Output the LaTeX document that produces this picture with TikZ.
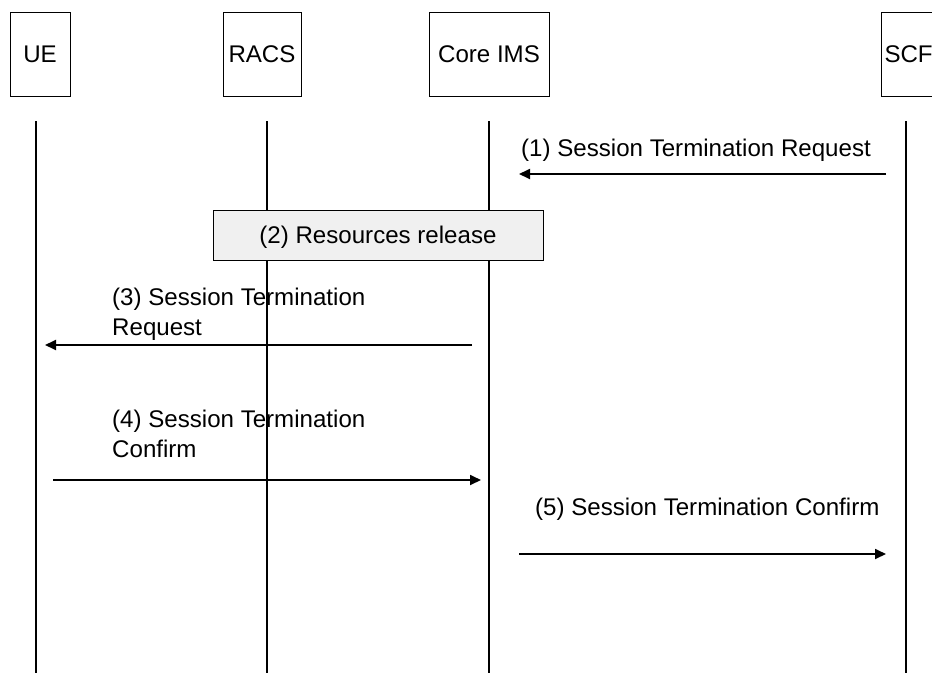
\documentclass[tikz,border=0pt]{standalone}
\usepackage{fontspec}
\setmainfont{Liberation Sans}
\usetikzlibrary{arrows.meta}
\begin{document}
\begin{tikzpicture}[x=1pt,y=-1pt,
  every node/.style={font=\fontsize{24.1}{29.5}\selectfont},
  actor/.style={draw=black, line width=1pt, minimum height=84pt, inner sep=0pt, text height=17pt, text depth=0pt},
  life/.style={line width=1.1pt},
  msg/.style={line width=1.8pt, -{Triangle[length=11pt,width=10pt]}},
  lbl/.style={inner sep=0pt, anchor=base west, align=left},
  actbox/.style={draw=black, line width=1pt, fill=black!6, inner sep=0pt, text height=17pt, text depth=0pt}]
\useasboundingbox (0,0) rectangle (932,673);
\clip (0,0) rectangle (932,673);
% actors
\node[actor, minimum width=60pt] (ue) at (40,54) {UE};
\node[actor, minimum width=78pt] (racs) at (262,54) {RACS};
\node[actor, minimum width=120pt] (ims) at (489,54) {Core IMS};
\node[actor, anchor=west, text width=94pt, align=left, inner xsep=3pt] (scf) at (881,54) {SCF};
% lifelines
\coordinate (ueT) at (36,121);   \coordinate (ueB) at (36,673);
\coordinate (racsT) at (267,121); \coordinate (racsB) at (267,673);
\coordinate (imsT) at (489,121); \coordinate (imsB) at (489,673);
\coordinate (scfT) at (906,121); \coordinate (scfB) at (906,673);
\draw[life] (ueT) -- (ueB);
\draw[life] (racsT) -- (racsB);
\draw[life] (imsT) -- (imsB);
\draw[life] (scfT) -- (scfB);
% (1)
\coordinate (m1s) at (886,174); \coordinate (m1e) at (519,174);
\draw[msg] (m1s) -- (m1e);
\node[lbl] (l1) at (521,156) {(1) Session Termination Request};
% (2)
\node[actbox, minimum width=330pt, minimum height=50pt] (rel) at (378,235) {(2) Resources release};
% (3)
\coordinate (m3s) at (472,345); \coordinate (m3e) at (45,345);
\draw[msg] (m3s) -- (m3e);
\node[lbl] (l3) at (112,335) {(3) Session Termination\\Request};
% (4)
\coordinate (m4s) at (53,480); \coordinate (m4e) at (481,480);
\draw[msg] (m4s) -- (m4e);
\node[lbl] (l4) at (112,457) {(4) Session Termination\\Confirm};
% (5)
\coordinate (m5s) at (519,554); \coordinate (m5e) at (886,554);
\draw[msg] (m5s) -- (m5e);
\node[lbl] (l5) at (535,515) {(5) Session Termination Confirm};
\end{tikzpicture}
\end{document}
